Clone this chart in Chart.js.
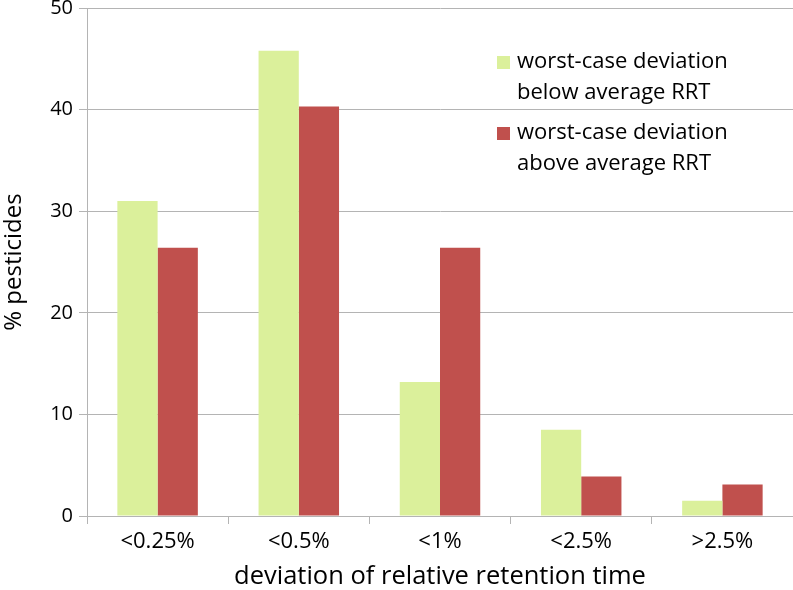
<!DOCTYPE html>
<html>
<head>
<meta charset="utf-8">
<script src="https://cdn.jsdelivr.net/npm/chart.js@4/dist/chart.umd.min.js"></script>
<style>
  html, body { margin: 0; padding: 0; background: #fff; }
  #wrap { width: 793px; height: 590px; }
</style>
</head>
<body>
<div id="wrap"><canvas id="grafico" width="793" height="590"></canvas></div>
<script>
const categorias = ['<0.25%', '<0.5%', '<1%', '<2.5%', '>2.5%'];
const abaixo = [31.0, 45.8, 13.2, 8.5, 1.5];
const acima = [26.4, 40.3, 26.4, 3.9, 3.1];
const legendas = [
  ['worst-case deviation', 'below average RRT'],
  ['worst-case deviation', 'above average RRT']
];
const ticksY = [0, 10, 20, 30, 40, 50];

const fonte = '"Open Sans", sans-serif';
const cinza = '#b4b4b4';

// legenda desenhada dentro da área do gráfico
const legendaPlugin = {
  id: 'legendaInterna',
  afterDraw(chart) {
    const ctx = chart.ctx;
    ctx.save();
    ctx.font = '22px ' + fonte;
    ctx.textBaseline = 'alphabetic';
    const x0 = 497, tops = [56, 127];
    chart.data.datasets.forEach((ds, i) => {
      const y = tops[i];
      ctx.fillStyle = ds.backgroundColor;
      ctx.fillRect(x0, y, 13, 13);
      ctx.fillStyle = '#000';
      legendas[i].forEach((linha, j) => {
        ctx.fillText(linha, x0 + 20, y + 12 + j * 31);
      });
    });
    ctx.restore();
  }
};

new Chart(document.getElementById('grafico'), {
  type: 'bar',
  data: {
    labels: categorias,
    datasets: [
      { label: legendas[0].join(' '), data: abaixo, backgroundColor: '#dbf09b', barPercentage: 1, categoryPercentage: 0.57 },
      { label: legendas[1].join(' '), data: acima, backgroundColor: '#c0504d', barPercentage: 1, categoryPercentage: 0.57 }
    ]
  },
  options: {
    responsive: false,
    animation: false,
    layout: { padding: { top: 8, right: 0, left: 0, bottom: 0 } },
    plugins: { legend: { display: false }, tooltip: { enabled: false } },
    scales: {
      x: {
        grid: { display: true, drawOnChartArea: false, offset: true, color: cinza, tickLength: 8 },
        border: { color: cinza },
        ticks: { color: '#000', font: { family: fonte, size: 22 }, padding: 5 },
        title: { display: true, text: 'deviation of relative retention time', color: '#000', font: { family: fonte, size: 25.5 }, padding: { top: 0, bottom: -2 } },
        afterFit: s => { s.height = 74; s.paddingLeft = 0; s.paddingRight = 0; }
      },
      y: {
        min: 0, max: 50,
        afterBuildTicks: s => { s.ticks = ticksY.map(v => ({ value: v })); },
        grid: { color: cinza, tickLength: 8 },
        border: { color: cinza },
        ticks: { color: '#000', font: { family: fonte, size: 20 }, padding: 6 },
        title: { display: true, text: '% pesticides', color: '#000', font: { family: fonte, size: 24 }, padding: { top: 0, bottom: 0 } },
        afterFit: s => { s.width = 87; s.paddingTop = 0; s.paddingBottom = 0; }
      }
    }
  },
  plugins: [legendaPlugin]
});
</script>
</body>
</html>
